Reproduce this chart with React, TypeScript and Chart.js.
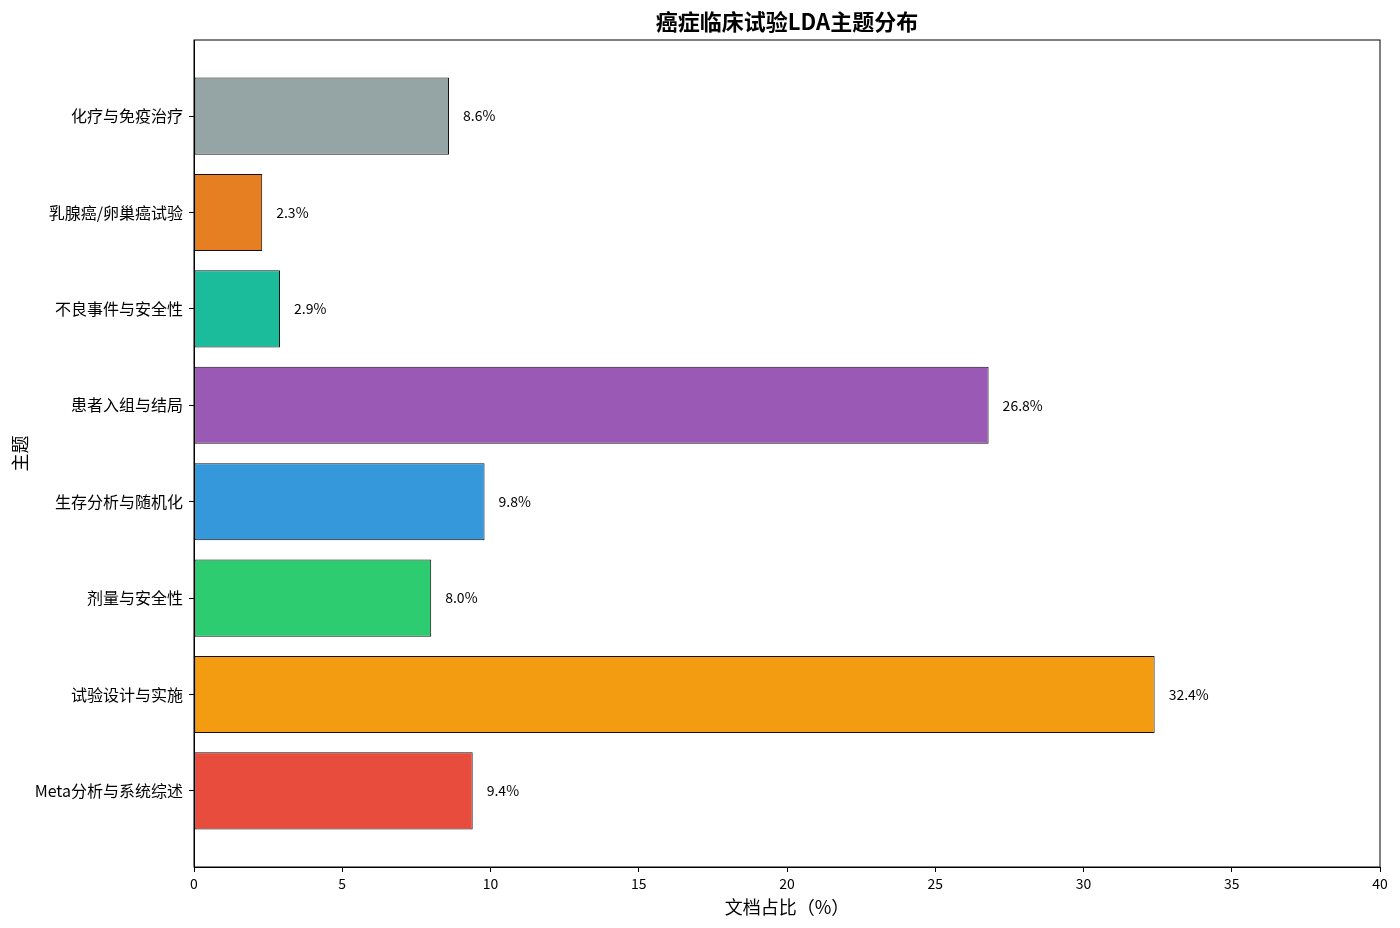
import { useEffect, useRef } from "react";
import { Chart, registerables, type Plugin } from "chart.js";

Chart.register(...registerables);

// top to bottom, as shown in the picture
const TOPICS = [
  "化疗与免疫治疗",
  "乳腺癌/卵巢癌试验",
  "不良事件与安全性",
  "患者入组与结局",
  "生存分析与随机化",
  "剂量与安全性",
  "试验设计与实施",
  "Meta分析与系统综述",
];
const SHARES = [8.6, 2.3, 2.9, 26.8, 9.8, 8.0, 32.4, 9.4];
const BAR_COLORS = [
  "#95a5a6",
  "#e67e22",
  "#1abc9c",
  "#9b59b6",
  "#3498db",
  "#2ecc71",
  "#f39c12",
  "#e74c3c",
];

const TITLE = "癌症临床试验LDA主题分布";
const FONT = "'Noto Sans CJK SC', 'Noto Sans', sans-serif";

// matplotlib centres the title over the axes, not the canvas
const axesTitle: Plugin<"bar"> = {
  id: "axesTitle",
  afterDraw(chart) {
    const { ctx, chartArea: a } = chart;
    ctx.save();
    ctx.fillStyle = "#000";
    ctx.font = `600 22px ${FONT}`;
    ctx.textAlign = "center";
    ctx.textBaseline = "middle";
    ctx.fillText(TITLE, (a.left + a.right) / 2, 22);
    ctx.restore();
  },
};

const frame: Plugin<"bar"> = {
  id: "frame",
  afterDraw(chart) {
    const { ctx, chartArea: a } = chart;
    ctx.save();
    ctx.strokeStyle = "#000";
    ctx.lineWidth = 1;
    ctx.strokeRect(a.left, a.top, a.right - a.left, a.bottom - a.top);
    ctx.restore();
  },
};

const valueLabels: Plugin<"bar"> = {
  id: "valueLabels",
  afterDatasetsDraw(chart) {
    const { ctx } = chart;
    const meta = chart.getDatasetMeta(0);
    ctx.save();
    ctx.fillStyle = "#000";
    ctx.font = `14px ${FONT}`;
    ctx.textAlign = "left";
    ctx.textBaseline = "middle";
    meta.data.forEach((el, i) => {
      ctx.fillText(`${SHARES[i].toFixed(1)}%`, el.x + 14, el.y);
    });
    ctx.restore();
  },
};

export default function App() {
  const canvasRef = useRef<HTMLCanvasElement>(null);

  useEffect(() => {
    document.body.style.margin = "0";
    if (!canvasRef.current) return;

    const chart = new Chart(canvasRef.current, {
      type: "bar",
      data: {
        datasets: [{
          data: SHARES.map((v, i) => ({ x: v, y: i })) as any,
          backgroundColor: BAR_COLORS,
          borderColor: "#111",
          borderWidth: 1,
          borderSkipped: false,
          barPercentage: 0.8,
          categoryPercentage: 1,
        }],
      },
      options: {
        indexAxis: "y",
        animation: false,
        responsive: false,
        layout: { padding: { left: 0, right: 20, top: 40, bottom: 0 } },
        scales: {
          x: {
            type: "linear",
            min: 0,
            max: 40,
            afterFit(s) { s.height = 61; },
            ticks: { stepSize: 5, color: "#000", font: { family: FONT, size: 14 }, padding: 3 },
            grid: { drawOnChartArea: false, drawTicks: true, tickLength: 5, color: "#000" },
            border: { color: "#000" },
            title: {
              display: true,
              text: "文档占比（%）",
              color: "#000",
              font: { family: FONT, size: 18 },
              padding: { top: 0, bottom: 10 },
            },
          },
          y: {
            type: "linear",
            reverse: true,
            offset: false,
            min: -0.79,
            max: 7.79,
            afterFit(s) { s.width = 194; },
            afterBuildTicks(s) { s.ticks = TOPICS.map((_, i) => ({ value: i })); },
            ticks: {
              color: "#000",
              font: { family: FONT, size: 16 },
              padding: 6,
              callback: (v) => TOPICS[Number(v)] ?? "",
            },
            grid: { offset: false, drawOnChartArea: false, drawTicks: true, tickLength: 5, color: "#000" },
            border: { color: "#000" },
            title: {
              display: true,
              text: "主题",
              color: "#000",
              font: { family: FONT, size: 18 },
              padding: { top: 9, bottom: 0 },
            },
          },
        },
        plugins: {
          legend: { display: false },
          tooltip: { enabled: false },
          title: { display: false },
        },
      },
      plugins: [frame, valueLabels, axesTitle],
    });

    return () => chart.destroy();
  }, []);

  return (
    <div style={{ width: 1400, height: 928, background: "#fff" }}>
      <canvas ref={canvasRef} width={1400} height={928} />
    </div>
  );
}
